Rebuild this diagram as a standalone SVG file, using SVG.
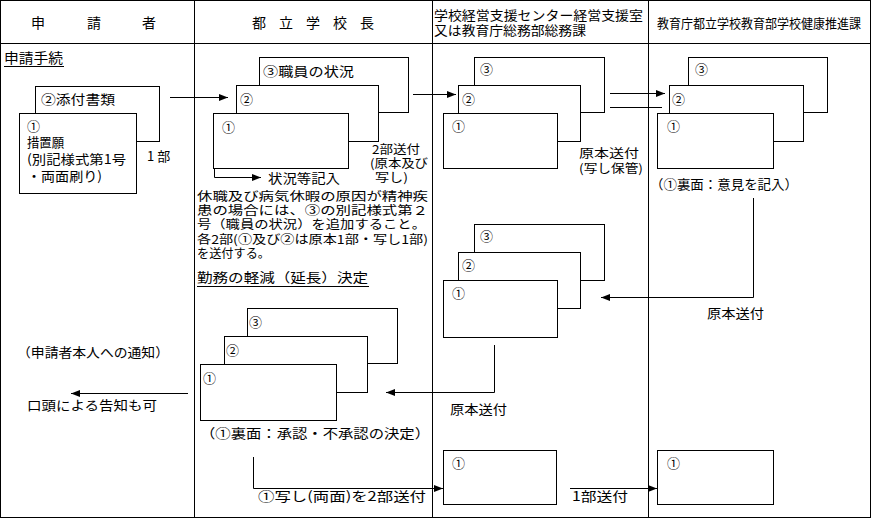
<svg xmlns="http://www.w3.org/2000/svg" width="872" height="519" viewBox="0 0 872 519">
<defs>
<style>
.frame{fill:none;stroke:#000;stroke-width:1}
.b{fill:#fff;stroke:#000;stroke-width:1}
.l{fill:none;stroke:#000;stroke-width:1}
.a{fill:none;stroke:#000;stroke-width:1;marker-end:url(#ah)}
text{font-family:"Noto Sans CJK JP","MS Gothic",sans-serif;font-size:13px;fill:#000}
.h{font-size:14px}
.s{font-size:12px}
.u{fill:none;stroke:#000;stroke-width:1}
</style>
<marker id="ah" viewBox="0 0 10 10" refX="10" refY="5" markerWidth="9" markerHeight="9" markerUnits="userSpaceOnUse" orient="auto">
<path d="M0,1 L10,5 L0,9 Z" fill="#000"/>
</marker>
</defs>
<rect width="872" height="519" fill="#fff"/>

<g id="table">
<rect class="frame" x="0.5" y="0.5" width="870" height="517"/>
<line class="l" x1="0" y1="43.5" x2="871" y2="43.5"/>
<line class="l" x1="194.5" y1="0" x2="194.5" y2="518"/>
<line class="l" x1="432.5" y1="0" x2="432.5" y2="518"/>
<line class="l" x1="648.5" y1="0" x2="648.5" y2="518"/>
<text class="h" y="28"><tspan x="31">申</tspan><tspan x="87">請</tspan><tspan x="142">者</tspan></text>
<text class="h" y="28"><tspan x="252">都</tspan><tspan x="279">立</tspan><tspan x="306">学</tspan><tspan x="333">校</tspan><tspan x="360">長</tspan></text>
<text x="434" y="20" textLength="209" lengthAdjust="spacingAndGlyphs">学校経営支援センター経営支援室</text>
<text x="434" y="35" textLength="152" lengthAdjust="spacingAndGlyphs">又は教育庁総務部総務課</text>
<text x="657" y="28" textLength="204" lengthAdjust="spacingAndGlyphs">教育庁都立学校教育部学校健康推進課</text>
</g>

<g id="applicant-title">
<text x="4" y="63" class="h" textLength="59" lengthAdjust="spacingAndGlyphs">申請手続</text>
<line class="u" x1="4" y1="66.5" x2="64" y2="66.5"/>
</g>

<g id="applicant-docs">
<rect class="b" x="35.5" y="86.5" width="124" height="55"/>
<text x="41" y="104" textLength="74" lengthAdjust="spacingAndGlyphs">②添付書類</text>
<rect class="b" x="19.5" y="113.5" width="117" height="80"/>
<text x="27" y="131">①</text>
<text x="27" y="147" textLength="37" lengthAdjust="spacingAndGlyphs">措置願</text>
<text x="27" y="164" textLength="99" lengthAdjust="spacingAndGlyphs">(別記様式第1号</text>
<text x="27" y="181" textLength="75" lengthAdjust="spacingAndGlyphs">・両面刷り)</text>
<text x="147" y="161">1 部</text>
</g>

<g id="principal-docs">
<rect class="b" x="259.5" y="57.5" width="149" height="55"/>
<text x="263" y="76" textLength="91" lengthAdjust="spacingAndGlyphs">③職員の状況</text>
<rect class="b" x="236.5" y="85.5" width="142" height="56"/>
<text x="240" y="104">②</text>
<rect class="b" x="213.5" y="113.5" width="135" height="55"/>
<text x="222" y="132">①</text>
<text x="268" y="183" textLength="72" lengthAdjust="spacingAndGlyphs">状況等記入</text>
<text class="s" x="372" y="154" textLength="48" lengthAdjust="spacingAndGlyphs">2部送付</text>
<text class="s" x="370" y="168" textLength="58" lengthAdjust="spacingAndGlyphs">(原本及び</text>
<text class="s" x="375" y="182" textLength="33" lengthAdjust="spacingAndGlyphs">写し)</text>
</g>

<g id="principal-note">
<text class="s" x="197" y="201" textLength="231" lengthAdjust="spacingAndGlyphs">休職及び病気休暇の原因が精神疾</text>
<text class="s" x="197" y="215" textLength="231" lengthAdjust="spacingAndGlyphs">患の場合には、③の別記様式第２</text>
<text class="s" x="197" y="229" textLength="229" lengthAdjust="spacingAndGlyphs">号（職員の状況）を追加すること。</text>
<text class="s" x="197" y="244" textLength="231" lengthAdjust="spacingAndGlyphs">各2部(①及び②は原本1部・写し1部)</text>
<text class="s" x="197" y="258" textLength="73" lengthAdjust="spacingAndGlyphs">を送付する。</text>
<text x="197" y="282" textLength="171" lengthAdjust="spacingAndGlyphs">勤務の軽減（延長）決定</text>
<line class="u" x1="197" y1="286.5" x2="369" y2="286.5"/>
</g>

<g id="principal-decision">
<rect class="b" x="247.5" y="308.5" width="150" height="55"/>
<text x="249" y="327">③</text>
<rect class="b" x="224.5" y="336.5" width="143" height="56"/>
<text x="226" y="355">②</text>
<rect class="b" x="200.5" y="364.5" width="136" height="56"/>
<text x="203" y="383">①</text>
<text x="200" y="438" textLength="230" lengthAdjust="spacingAndGlyphs">（①裏面：承認・不承認の決定）</text>
</g>

<g id="applicant-notice">
<text x="17" y="357" textLength="152" lengthAdjust="spacingAndGlyphs">（申請者本人への通知）</text>
<text x="27" y="410" textLength="130" lengthAdjust="spacingAndGlyphs">口頭による告知も可</text>
</g>

<g id="center-docs">
<rect class="b" x="474.5" y="57.5" width="130" height="55"/>
<text x="480" y="74">③</text>
<rect class="b" x="458.5" y="85.5" width="122" height="56"/>
<text x="462" y="104">②</text>
<rect class="b" x="443.5" y="113.5" width="114" height="55"/>
<text x="452" y="131">①</text>
<text class="s" x="579" y="158" textLength="60" lengthAdjust="spacingAndGlyphs">原本送付</text>
<text class="s" x="579" y="173" textLength="64" lengthAdjust="spacingAndGlyphs">(写し保管)</text>
</g>

<g id="health-docs">
<rect class="b" x="688.5" y="57.5" width="139" height="55"/>
<text x="695" y="74">③</text>
<rect class="b" x="669.5" y="85.5" width="134" height="56"/>
<text x="672" y="104">②</text>
<rect class="b" x="657.5" y="113.5" width="116" height="55"/>
<text x="667" y="131">①</text>
<text x="650" y="189" textLength="148" lengthAdjust="spacingAndGlyphs">（①裏面：意見を記入）</text>
</g>

<g id="center-return">
<rect class="b" x="474.5" y="224.5" width="130" height="56"/>
<text x="480" y="241">③</text>
<rect class="b" x="458.5" y="252.5" width="122" height="56"/>
<text x="462" y="270">②</text>
<rect class="b" x="443.5" y="280.5" width="114" height="57"/>
<text x="452" y="298">①</text>
<text x="707" y="318" textLength="57" lengthAdjust="spacingAndGlyphs">原本送付</text>
<text x="450" y="414" textLength="57" lengthAdjust="spacingAndGlyphs">原本送付</text>
</g>

<g id="center-copy">
<rect class="b" x="443.5" y="450.5" width="113" height="54"/>
<text x="452" y="468">①</text>
</g>

<g id="health-copy">
<rect class="b" x="657.5" y="450.5" width="116" height="54"/>
<text x="667" y="468">①</text>
</g>

<g id="connectors">
<line class="a" x1="170" y1="97.5" x2="228" y2="97.5"/>
<polyline class="a" points="214.5,168 214.5,177.5 261,177.5"/>
<line class="a" x1="413" y1="94.5" x2="456" y2="94.5"/>
<line class="a" x1="610" y1="93.5" x2="665" y2="93.5"/>
<line class="l" x1="610" y1="107.5" x2="662" y2="107.5"/>
<polyline class="a" points="753.5,198 753.5,297.5 601,297.5"/>
<polyline class="a" points="494.5,345 494.5,392.5 386,392.5"/>
<line class="a" x1="188" y1="393.5" x2="71" y2="393.5"/>
<polyline class="a" points="253.5,457 253.5,488.5 443,488.5"/>
<line class="a" x1="570" y1="488.5" x2="657" y2="488.5"/>
<text x="258" y="501" textLength="168" lengthAdjust="spacingAndGlyphs">①写し(両面)を2部送付</text>
<text x="572" y="501" textLength="56" lengthAdjust="spacingAndGlyphs">1部送付</text>
</g>
</svg>
